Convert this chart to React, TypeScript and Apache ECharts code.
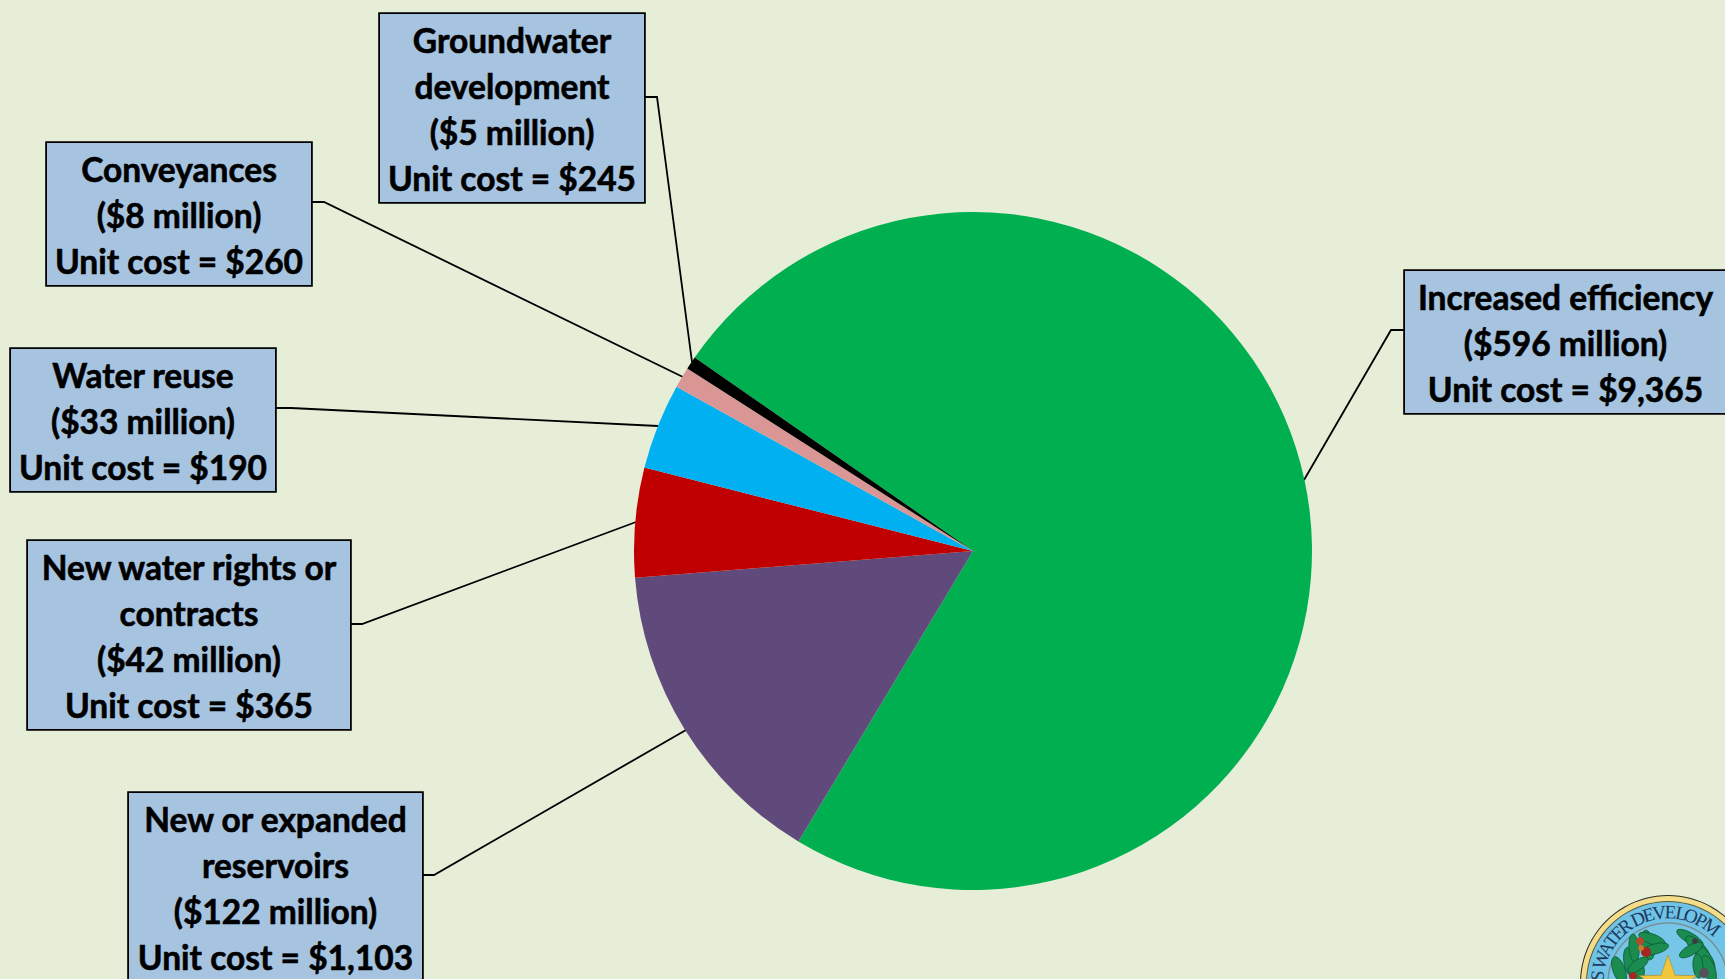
import React, { useEffect, useRef } from "react";
import * as echarts from "echarts";

const categories = [
  "Increased efficiency",
  "New or expanded\nreservoirs",
  "New water rights or\ncontracts",
  "Water reuse",
  "Conveyances",
  "Groundwater\ndevelopment",
];
const costsMillions = [596, 122, 42, 33, 8, 5];
const unitCosts = ["$9,365", "$1,103", "$365", "$190", "$260", "$245"];
const sliceColors = ["#00B050", "#604A7B", "#C00000", "#00B0F0", "#D99694", "#000000"];

const BG = "#E6EED8";
const boxes = [
  { x: 1405, y: 271, w: 321 },
  { x: 129, y: 793, w: 293 },
  { x: 28, y: 541, w: 322 },
  { x: 11, y: 349, w: 264 },
  { x: 47, y: 143, w: 264 },
  { x: 380, y: 14, w: 264 },
];
const leaders = [
  [[1404, 330], [1391, 330], [1304, 480]],
  [[422, 875], [434, 875], [686, 730]],
  [[351, 624], [362, 624], [636, 522]],
  [[276, 408], [291, 408], [658, 426]],
  [[311, 202], [324, 202], [683, 377]],
  [[644, 97], [657, 97], [692, 362]],
];

const sealCenter = [1668, 983];
const sealLetters: [string, number][] = [
  ["S", -84], ["W", -71], ["A", -61], ["T", -53], ["E", -45], ["R", -37],
  ["D", -25], ["E", -16], ["V", -7], ["E", 2], ["L", 11], ["O", 19], ["P", 28], ["M", 38],
];
const leaves: [number, number, number, number, number][] = [
  [1619, 970, 14, 6, 70], [1630, 962, 15, 6, 80], [1634, 948, 14, 5, 85], [1648, 945, 15, 6, 80],
  [1652, 939, 14, 5, 20], [1655, 949, 14, 5, -15], [1638, 975, 13, 6, 100], [1638, 965, 12, 5, -35],
  [1690, 938, 15, 5, 30], [1698, 948, 16, 6, 45], [1705, 958, 15, 6, 55], [1709, 969, 14, 6, 70],
  [1691, 950, 13, 5, -30], [1698, 966, 12, 5, 85],
];
const berries: [number, number, number, string][] = [
  [1640, 941, 4, "#B5472A"], [1646, 952, 5, "#A8261F"], [1641, 948, 3, "#C77A28"], [1633, 976, 4, "#A8261F"],
  [1695, 941, 3, "#3B3B45"], [1704, 973, 5, "#55505A"],
];

function starPoints(cx: number, cy: number, R: number, r: number) {
  const pts: number[][] = [];
  for (let i = 0; i < 10; i++) {
    const a = (-90 + i * 36) * (Math.PI / 180);
    const rad = i % 2 === 0 ? R : r;
    pts.push([cx + rad * Math.cos(a), cy + rad * Math.sin(a)]);
  }
  return pts;
}

function sealGraphics() {
  const [cx, cy] = sealCenter;
  const circle = (r: number, fill: string, stroke = "none", lineWidth = 0) => ({
    type: "circle", shape: { cx, cy, r }, style: { fill, stroke, lineWidth }, silent: true,
  });
  const els: any[] = [
    circle(88, "#2B2A20"),
    circle(87, "#F3DD8A"),
    circle(82, "#5C5A3A"),
    circle(81, "#6FC3E6"),
    circle(60, "#76C6E8", "#7A8F96", 1.5),
  ];
  sealLetters.forEach(([ch, deg]) => {
    const a = (deg * Math.PI) / 180;
    els.push({
      type: "text",
      x: cx + 71 * Math.sin(a),
      y: cy - 71 * Math.cos(a),
      rotation: -a,
      silent: true,
      style: { text: ch, fill: "#1E3A5F", font: "19px 'Liberation Serif'", align: "center", verticalAlign: "middle" },
    });
  });
  leaves.forEach(([x, y, rx, ry, deg]) => {
    els.push({
      type: "ellipse", x, y, rotation: (-deg * Math.PI) / 180, silent: true,
      shape: { cx: 0, cy: 0, rx, ry }, style: { fill: "#1B8C50", stroke: "#0E5A33", lineWidth: 0.8 },
    });
  });
  berries.forEach(([x, y, r, fill]) => {
    els.push({ type: "circle", shape: { cx: x, cy: y, r }, style: { fill }, silent: true });
  });
  els.push({
    type: "polygon", silent: true, shape: { points: starPoints(1668, 985, 30, 12) },
    style: { fill: "#F2C63C", stroke: "#A98A22", lineWidth: 0.6 },
  });
  return els;
}

export default function App() {
  const ref = useRef<HTMLDivElement>(null);
  useEffect(() => {
    const chart = echarts.init(ref.current!, undefined, { renderer: "svg" });
    chart.setOption({
      animation: false,
      backgroundColor: BG,
      graphic: { elements: sealGraphics() },
      series: [
        {
          type: "pie",
          center: [973, 551],
          radius: [0, 339],
          startAngle: 145.2,
          clockwise: true,
          avoidLabelOverlap: false,
          minAngle: 0,
          silent: true,
          itemStyle: { borderWidth: 0 },
          data: categories.map((name, i) => ({
            name,
            value: costsMillions[i],
            itemStyle: { color: sliceColors[i] },
            label: {
              width: boxes[i].w,
              formatter: `${name}\n($${costsMillions[i]} million)\nUnit cost = ${unitCosts[i]}`,
            },
          })),
          label: {
            show: true,
            position: "outside",
            fontFamily: "Lato",
            fontWeight: "bold",
            fontSize: 33.5,
            lineHeight: 46,
            color: "#000",
            textBorderColor: "#000",
            textBorderWidth: 0.6,
            backgroundColor: "#A6C4E0",
            borderColor: "#000",
            borderWidth: 1.8,
            padding: [3, 0, 1, 0],
          },
          labelLine: { show: true, lineStyle: { color: "#000", width: 1.8 } },
          labelLayout: (p: any) => ({
            x: boxes[p.dataIndex].x + boxes[p.dataIndex].w / 2,
            y: boxes[p.dataIndex].y,
            align: "center",
            verticalAlign: "top",
            labelLinePoints: leaders[p.dataIndex],
          }),
        },
      ],
    });
    return () => chart.dispose();
  }, []);
  return <div ref={ref} style={{ position: "fixed", left: 0, top: 0, width: 1725, height: 979 }} />;
}
